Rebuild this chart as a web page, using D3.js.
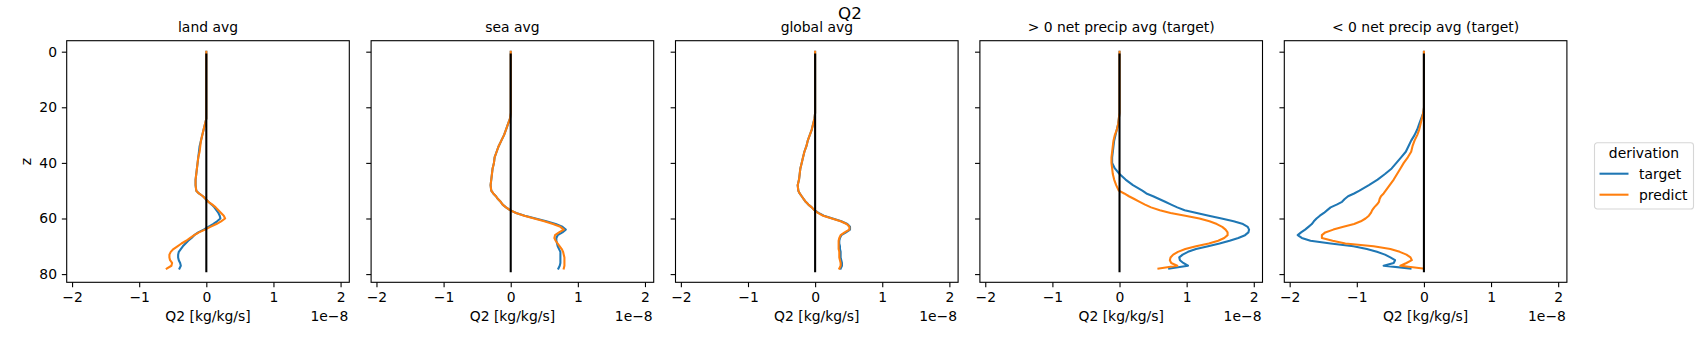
<!DOCTYPE html>
<html>
<head>
<meta charset="utf-8">
<script src="https://cdn.jsdelivr.net/npm/d3@7"></script>
<style>
  body { margin: 0; background: #fff; }
  svg text { font-family: "DejaVu Sans", sans-serif; fill: #000; }
  .axis text { font-size: 13.9px; }
  .axis line { stroke: #000; stroke-width: 1.1; }
  .axis .domain { display: none; }
  .spine { fill: none; stroke: #000; stroke-width: 1.1; }
  .label { font-size: 13.9px; }
  .panel-title { font-size: 13.9px; }
  .suptitle { font-size: 16.7px; }
  .profile { fill: none; stroke-width: 2.08; stroke-linecap: square; stroke-linejoin: round; }
</style>
</head>
<body>
<div id="chart"></div>
<script>

// vertical levels the profiles were read at
const zLevels = [0, 10, 20, 22, 24, 26, 28, 30, 32, 34, 36, 38, 40, 42, 44, 46, 48, 50,
    51, 52, 53, 54, 55, 56, 57, 58, 59, 60, 61, 62, 63, 64, 65, 66, 67, 68, 69, 70,
    71, 72, 73, 74, 75, 76, 77, 78];

// Q2 in units of 1e-8 kg/kg/s
const landTarget = [0, 0, 0, 0, 0, -0.02, -0.04, -0.06, -0.08, -0.10, -0.11, -0.12, -0.13, -0.14, -0.15, -0.16, -0.16, -0.15,
    -0.11, -0.05, -0.01, 0.03, 0.08, 0.12, 0.15, 0.18, 0.20, 0.21, 0.16, 0.10, 0.03, -0.04, -0.12, -0.18, -0.22, -0.27, -0.31, -0.35,
    -0.38, -0.41, -0.42, -0.42, -0.41, -0.39, -0.38, -0.40];
const landPredict = [0, 0, 0, 0, 0, -0.02, -0.04, -0.06, -0.08, -0.09, -0.10, -0.12, -0.13, -0.14, -0.15, -0.16, -0.16, -0.15,
    -0.11, -0.05, -0.01, 0.03, 0.09, 0.14, 0.18, 0.22, 0.26, 0.28, 0.22, 0.15, 0.06, -0.02, -0.11, -0.18, -0.24, -0.30, -0.37, -0.43,
    -0.49, -0.53, -0.55, -0.55, -0.54, -0.51, -0.52, -0.59];

const seaTarget = [0, 0, 0, 0, -0.01, -0.04, -0.07, -0.10, -0.14, -0.18, -0.21, -0.24, -0.25, -0.27, -0.28, -0.29, -0.30, -0.29,
    -0.26, -0.22, -0.19, -0.15, -0.12, -0.07, -0.01, 0.08, 0.21, 0.37, 0.53, 0.67, 0.77, 0.82, 0.77, 0.70, 0.68, 0.68, 0.69, 0.70,
    0.72, 0.74, 0.74, 0.74, 0.74, 0.74, 0.73, 0.71];
const seaPredict = [0, 0, 0, 0, -0.01, -0.04, -0.07, -0.10, -0.14, -0.18, -0.21, -0.24, -0.25, -0.27, -0.28, -0.29, -0.30, -0.29,
    -0.26, -0.22, -0.19, -0.15, -0.12, -0.07, -0.01, 0.08, 0.20, 0.35, 0.50, 0.63, 0.74, 0.79, 0.72, 0.66, 0.65, 0.67, 0.70, 0.73,
    0.76, 0.78, 0.79, 0.80, 0.80, 0.80, 0.80, 0.79];

const globalTarget = [0, 0, 0, 0, -0.01, -0.03, -0.05, -0.08, -0.11, -0.13, -0.16, -0.18, -0.20, -0.22, -0.23, -0.24, -0.26, -0.25,
    -0.23, -0.20, -0.17, -0.14, -0.10, -0.05, -0.01, 0.05, 0.13, 0.26, 0.39, 0.48, 0.52, 0.52, 0.46, 0.39, 0.37, 0.36, 0.36, 0.37,
    0.37, 0.38, 0.38, 0.38, 0.39, 0.40, 0.40, 0.38];
const globalPredict = [0, 0, 0, 0, -0.01, -0.03, -0.05, -0.08, -0.11, -0.13, -0.16, -0.18, -0.20, -0.22, -0.23, -0.24, -0.26, -0.25,
    -0.23, -0.20, -0.17, -0.14, -0.10, -0.05, -0.01, 0.04, 0.12, 0.25, 0.38, 0.47, 0.51, 0.51, 0.44, 0.38, 0.36, 0.35, 0.35, 0.35,
    0.35, 0.36, 0.36, 0.36, 0.37, 0.38, 0.38, 0.36];

const wetTarget = [0, 0, 0, 0, -0.01, -0.02, -0.04, -0.06, -0.08, -0.09, -0.10, -0.11, -0.11, -0.07, 0, 0.09, 0.20, 0.34,
    0.40, 0.50, 0.59, 0.68, 0.77, 0.86, 0.97, 1.15, 1.33, 1.52, 1.70, 1.84, 1.91, 1.93, 1.92, 1.87, 1.77, 1.64, 1.49, 1.32,
    1.14, 1.02, 0.94, 0.89, 0.90, 0.95, 1.02, 0.74];
const wetPredict = [0, 0, 0, 0, -0.01, -0.02, -0.04, -0.07, -0.09, -0.10, -0.11, -0.12, -0.12, -0.11, -0.10, -0.08, -0.05, -0.01,
    0.07, 0.14, 0.22, 0.30, 0.38, 0.47, 0.60, 0.76, 0.98, 1.19, 1.34, 1.45, 1.53, 1.58, 1.61, 1.61, 1.56, 1.47, 1.33, 1.14,
    0.98, 0.87, 0.80, 0.76, 0.75, 0.77, 0.86, 0.58];

const dryTarget = [0, 0, 0, -0.01, -0.04, -0.07, -0.10, -0.14, -0.19, -0.23, -0.27, -0.34, -0.41, -0.48, -0.58, -0.69, -0.82, -0.96,
    -1.04, -1.13, -1.18, -1.22, -1.30, -1.39, -1.44, -1.49, -1.55, -1.60, -1.64, -1.67, -1.72, -1.77, -1.83, -1.88, -1.82, -1.69, -1.39, -1.05,
    -0.85, -0.70, -0.58, -0.50, -0.43, -0.45, -0.60, -0.20];
const dryPredict = [0, 0, 0, -0.01, -0.03, -0.05, -0.07, -0.10, -0.14, -0.17, -0.19, -0.24, -0.30, -0.35, -0.40, -0.45, -0.51, -0.57,
    -0.60, -0.64, -0.66, -0.67, -0.70, -0.74, -0.77, -0.79, -0.82, -0.87, -0.94, -1.04, -1.20, -1.35, -1.47, -1.52, -1.52, -1.36, -1.17, -0.75,
    -0.50, -0.36, -0.26, -0.20, -0.18, -0.26, -0.35, 0];

const panelTitles = ["land avg", "sea avg", "global avg", "> 0 net precip avg (target)", "< 0 net precip avg (target)"];
const targetSeries = [landTarget, seaTarget, globalTarget, wetTarget, dryTarget];
const predictSeries = [landPredict, seaPredict, globalPredict, wetPredict, dryPredict];
const seriesNames = ["target", "predict"];
const zeroLineZ = [1, 79];
const xTicks = [-2, -1, 0, 1, 2];
const zTicks = [0, 20, 40, 60, 80];


class profileChart {

    constructor(opts) {
        this.element = opts.element;
        this.width = 1700;
        this.height = 350;
        this.colors = ["#1f77b4", "#ff7f0e"];

        this._setDimensions();
        this._setScales();
        this.draw();
    }

    _setDimensions() {
        this.panelLeft = 66.7;
        this.panelStep = 304.4;
        this.panelWidth = 282.6;
        this.panelTop = 40.7;
        this.panelBottom = 282.3;
        this.tickLen = 4.86;
    }

    _setScales() {
        this.xScale = d3.scaleLinear()
            .domain([-2.08, 2.13])
            .range([0, this.panelWidth]);

        this.yScale = d3.scaleLinear()
            .domain([-3.95, 82.95])
            .range([0, this.panelBottom - this.panelTop]);

        this.xAxis = d3.axisBottom(this.xScale)
            .tickValues(xTicks)
            .tickFormat(d3.format("d"))
            .tickSize(this.tickLen)
            .tickPadding(4.86);
    }

    draw() {
        this.element.innerHTML = "";

        this.svg = d3.select(this.element).append("svg")
            .attr("width", this.width)
            .attr("height", this.height);

        this.svg.append("text")
            .attr("class", "suptitle")
            .attr("x", 850)
            .attr("y", 19)
            .attr("text-anchor", "middle")
            .text("Q2");

        let h = this.panelBottom - this.panelTop;

        panelTitles.forEach((title, i) => {
            let left = this.panelLeft + i * this.panelStep;
            let g = this.svg.append("g")
                .attr("transform", `translate(${left},${this.panelTop})`);

            g.append("clipPath")
                .attr("id", `clip-${i}`)
                .append("rect")
                .attr("width", this.panelWidth)
                .attr("height", h);

            let yAxis = d3.axisLeft(this.yScale)
                .tickValues(zTicks)
                .tickSize(this.tickLen)
                .tickPadding(4.86)
                .tickFormat(i === 0 ? d3.format("d") : "");

            g.append("g")
                .attr("class", "axis x-axis")
                .attr("transform", `translate(0,${h})`)
                .call(this.xAxis);

            g.append("g")
                .attr("class", "axis y-axis")
                .call(yAxis);

            let plot = g.append("g").attr("clip-path", `url(#clip-${i})`);

            let line = d3.line()
                .x(d => this.xScale(d))
                .y((d, j) => this.yScale(zLevels[j]));

            [targetSeries[i], predictSeries[i]].forEach((vals, k) => {
                plot.append("path")
                    .attr("class", "profile")
                    .attr("d", line(vals))
                    .style("stroke", this.colors[k]);
            });

            plot.append("line")
                .attr("class", "profile")
                .attr("x1", this.xScale(0))
                .attr("x2", this.xScale(0))
                .attr("y1", this.yScale(zeroLineZ[0]))
                .attr("y2", this.yScale(zeroLineZ[1]))
                .style("stroke", "#000");

            g.append("rect")
                .attr("class", "spine")
                .attr("width", this.panelWidth)
                .attr("height", h);

            g.append("text")
                .attr("class", "panel-title")
                .attr("x", this.panelWidth / 2)
                .attr("y", -8.3)
                .attr("text-anchor", "middle")
                .text(title);

            g.append("text")
                .attr("class", "label")
                .attr("x", this.panelWidth / 2)
                .attr("y", h + 39.2)
                .attr("text-anchor", "middle")
                .text("Q2 [kg/kg/s]");

            g.append("text")
                .attr("class", "label")
                .attr("x", this.panelWidth - 1)
                .attr("y", h + 38.6)
                .attr("text-anchor", "end")
                .text("1e\u22128");

            if (i === 0) {
                g.append("text")
                    .attr("class", "label")
                    .attr("transform", `translate(-35.2,${h / 2}) rotate(-90)`)
                    .attr("text-anchor", "middle")
                    .text("z");
            }
        });

        this.drawLegend();
    }

    drawLegend() {
        let lg = this.svg.append("g")
            .attr("transform", "translate(1594.5,142.7)");

        lg.append("rect")
            .attr("width", 99)
            .attr("height", 66.3)
            .attr("rx", 2.8)
            .style("fill", "#fff")
            .style("stroke", "#d6d6d6")
            .style("stroke-width", 1.1);

        lg.append("text")
            .attr("class", "label")
            .attr("x", 49.5)
            .attr("y", 15.3)
            .attr("text-anchor", "middle")
            .text("derivation");

        seriesNames.forEach((name, k) => {
            let y = 31 + k * 21;
            lg.append("line")
                .attr("x1", 5)
                .attr("x2", 34)
                .attr("y1", y)
                .attr("y2", y)
                .style("stroke", this.colors[k])
                .style("stroke-width", 2.08);
            lg.append("text")
                .attr("class", "label")
                .attr("x", 44.5)
                .attr("y", y + 5)
                .text(name);
        });
    }
}

new profileChart({ element: document.getElementById("chart") });

</script>
</body>
</html>
